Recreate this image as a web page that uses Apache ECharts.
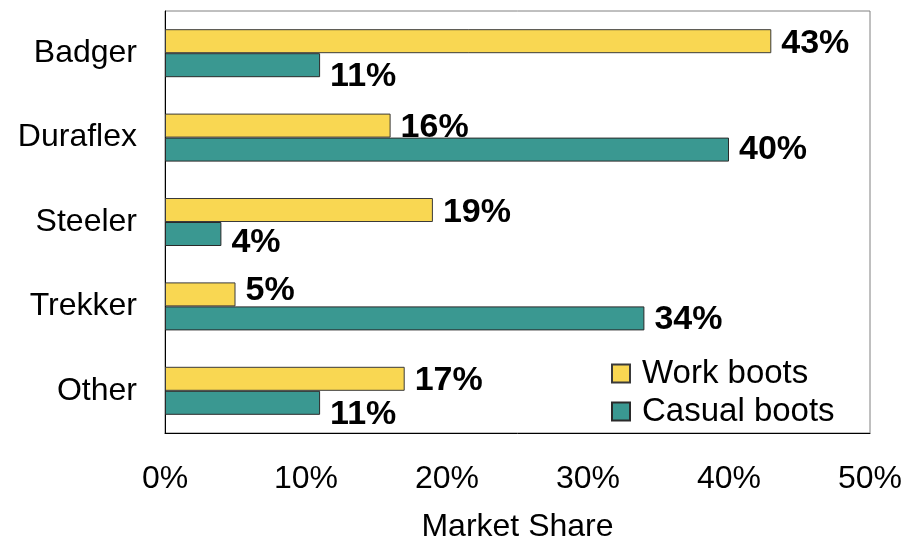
<!DOCTYPE html>
<html>
<head>
<meta charset="utf-8">
<script src="https://cdn.jsdelivr.net/npm/echarts@6/dist/echarts.min.js"></script>
<style>
html,body{margin:0;padding:0;background:#fff;}
#chart{width:918px;height:540px;}
</style>
</head>
<body>
<div id="chart"></div>
<script>
const categories = ['Badger', 'Duraflex', 'Steeler', 'Trekker', 'Other'];
const workBoots = [0.43, 0.16, 0.19, 0.05, 0.17];
const casualBoots = [0.11, 0.40, 0.04, 0.34, 0.11];
const seriesNames = ['Work boots', 'Casual boots'];
const xTicks = [0, 0.1, 0.2, 0.3, 0.4, 0.5];

const FONT = 'Liberation Sans';
const pct = v => Math.round(v * 100) + '%';

// label vertical nudges (Excel-like placement), by category index
const workShift = [2, 2, 3, -4, 2];
const casualShift = [11, 0, 9, 1, 12];

function build(values, shifts) {
  return values.map((v, i) => ({
    value: v,
    label: { offset: [0, shifts[i]] }
  }));
}

const chart = echarts.init(document.getElementById('chart'));
chart.setOption({
  animation: false,
  backgroundColor: '#fff',
  grid: {
    left: 165, right: 48, top: 11, bottom: 107,
    containLabel: false,
    outerBoundsMode: 'none',
    show: true, borderColor: '#808080', borderWidth: 1
  },
  legend: {
    orient: 'vertical',
    left: 611, top: 357,
    padding: 0,
    itemWidth: 18, itemHeight: 18, itemGap: 5,
    icon: 'rect',
    data: seriesNames,
    textStyle: { fontFamily: FONT, fontSize: 33, color: '#000', padding: [0, 0, 0, 7] }
  },
  xAxis: {
    type: 'value',
    min: 0, max: 0.5, interval: 0.1,
    name: 'Market Share',
    nameLocation: 'middle',
    nameGap: 78,
    nameTextStyle: { fontFamily: FONT, fontSize: 32, color: '#000' },
    axisLine: { show: true, lineStyle: { color: '#000', width: 1 } },
    axisTick: { show: false },
    splitLine: { show: false },
    axisLabel: {
      fontFamily: FONT, fontSize: 32, color: '#000', margin: 30,
      formatter: v => pct(v)
    }
  },
  yAxis: {
    type: 'category',
    data: categories,
    inverse: true,
    axisLine: { show: true, lineStyle: { color: '#000', width: 1 } },
    axisTick: { show: false },
    axisLabel: { fontFamily: FONT, fontSize: 32, color: '#000', margin: 28 }
  },
  series: [
    {
      name: seriesNames[0], type: 'bar',
      data: build(workBoots, workShift),
      barWidth: 24, barGap: '0%',
      itemStyle: { color: '#F9D752', borderColor: '#3a3a3a', borderWidth: 1 },
      label: {
        show: true, position: 'right', distance: 10,
        fontFamily: FONT, fontSize: 34, fontWeight: 'bold', color: '#000',
        formatter: p => pct(p.value)
      }
    },
    {
      name: seriesNames[1], type: 'bar',
      data: build(casualBoots, casualShift),
      barWidth: 24, barGap: '0%',
      itemStyle: { color: '#3A9891', borderColor: '#2a2a2a', borderWidth: 1 },
      label: {
        show: true, position: 'right', distance: 10,
        fontFamily: FONT, fontSize: 34, fontWeight: 'bold', color: '#000',
        formatter: p => pct(p.value)
      }
    }
  ]
});
</script>
</body>
</html>
